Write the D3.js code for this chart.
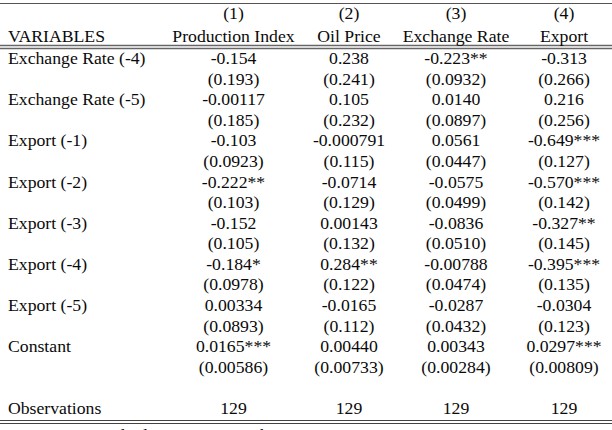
<!DOCTYPE html>
<html>
<head>
<meta charset="utf-8">
<script src="https://cdn.jsdelivr.net/npm/d3@7"></script>
<style>
  html, body { margin: 0; padding: 0; background: #fff; }
  svg { display: block; }
  text { font-family: "Liberation Serif", "Times New Roman", serif; fill: #0a0a0a; }
</style>
</head>
<body>
<div id="chart"></div>
<script>
const columnNumbers = ["(1)", "(2)", "(3)", "(4)"];
const columnNames = ["Production Index", "Oil Price", "Exchange Rate", "Export"];
const variables = ["Exchange Rate (-4)", "Exchange Rate (-5)", "Export (-1)", "Export (-2)",
                   "Export (-3)", "Export (-4)", "Export (-5)", "Constant"];
const coefProduction = ["-0.154", "-0.00117", "-0.103", "-0.222**", "-0.152", "-0.184*", "0.00334", "0.0165***"];
const seProduction   = ["(0.193)", "(0.185)", "(0.0923)", "(0.103)", "(0.105)", "(0.0978)", "(0.0893)", "(0.00586)"];
const coefOil = ["0.238", "0.105", "-0.000791", "-0.0714", "0.00143", "0.284**", "-0.0165", "0.00440"];
const seOil   = ["(0.241)", "(0.232)", "(0.115)", "(0.129)", "(0.132)", "(0.122)", "(0.112)", "(0.00733)"];
const coefExchange = ["-0.223**", "0.0140", "0.0561", "-0.0575", "-0.0836", "-0.00788", "-0.0287", "0.00343"];
const seExchange   = ["(0.0932)", "(0.0897)", "(0.0447)", "(0.0499)", "(0.0510)", "(0.0474)", "(0.0432)", "(0.00284)"];
const coefExport = ["-0.313", "0.216", "-0.649***", "-0.570***", "-0.327**", "-0.395***", "-0.0304", "0.0297***"];
const seExport   = ["(0.266)", "(0.256)", "(0.127)", "(0.142)", "(0.145)", "(0.135)", "(0.123)", "(0.00809)"];
const observations = ["129", "129", "129", "129"];
const footnote = "Standard errors in parentheses *** p<0.01, ** p<0.05, * p<0.1";

const coefs = [coefProduction, coefOil, coefExchange, coefExport];
const ses = [seProduction, seOil, seExchange, seExport];

const W = 612, H = 430;
const svg = d3.select("#chart").append("svg").attr("width", W).attr("height", H);

const xPos = [233.5, 349, 456, 564];
// body rows: 16 rows + blank + observations
const rowY = d3.scaleLinear().domain([0, 17]).range([64, 414]);
const fs = 17.7;

// rules
svg.append("line").attr("x1", 0).attr("x2", W).attr("y1", 3.5).attr("y2", 3.5)
  .attr("stroke", "#555").attr("stroke-width", 1.2);
[45.5, 48.5].forEach(y => svg.append("line").attr("x1", 0).attr("x2", W).attr("y1", y).attr("y2", y)
  .attr("stroke", "#666").attr("stroke-width", 1.3));
[420.5, 423.5].forEach(y => svg.append("line").attr("x1", 0).attr("x2", W).attr("y1", y).attr("y2", y)
  .attr("stroke", "#444").attr("stroke-width", 1.1));

// header
svg.append("text").attr("x", 8).attr("y", 42).attr("font-size", fs).text("VARIABLES");
const hdr = svg.append("g");
hdr.selectAll("text.num").data(columnNumbers).enter().append("text")
  .attr("class", "num").attr("x", (d, i) => xPos[i]).attr("y", 19)
  .attr("text-anchor", "middle").attr("font-size", fs).text(d => d);
hdr.selectAll("text.name").data(columnNames).enter().append("text")
  .attr("class", "name").attr("x", (d, i) => xPos[i]).attr("y", 42)
  .attr("text-anchor", "middle").attr("font-size", fs).text(d => d);

// body
const body = svg.append("g");
variables.forEach((v, r) => {
  body.append("text").attr("x", 8).attr("y", rowY(2 * r)).attr("font-size", fs).text(v);
  coefs.forEach((col, c) => {
    body.append("text").attr("x", xPos[c]).attr("y", rowY(2 * r))
      .attr("text-anchor", "middle").attr("font-size", fs).text(col[r]);
    body.append("text").attr("x", xPos[c]).attr("y", rowY(2 * r + 1))
      .attr("text-anchor", "middle").attr("font-size", fs).text(ses[c][r]);
  });
});
body.append("text").attr("x", 8).attr("y", rowY(17)).attr("font-size", fs).text("Observations");
observations.forEach((o, c) => body.append("text").attr("x", xPos[c]).attr("y", rowY(17))
  .attr("text-anchor", "middle").attr("font-size", fs).text(o));

// footnote (partly cut off at the bottom, as in the reference)
svg.append("text").attr("x", 306).attr("y", 441).attr("text-anchor", "middle")
  .attr("font-size", fs).text(footnote);
</script>
</body>
</html>
